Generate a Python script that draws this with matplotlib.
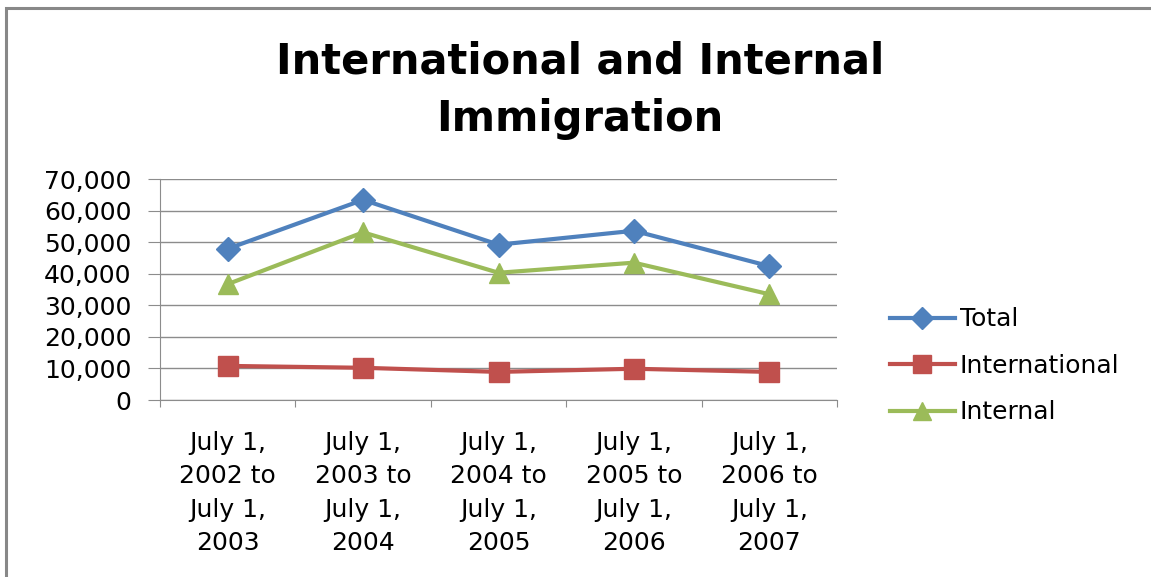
import numpy as np
import matplotlib.pyplot as plt
from matplotlib.patches import Rectangle

# Immigration components, July-to-July periods
periods = ["July 1,\n2002 to\nJuly 1,\n2003",
           "July 1,\n2003 to\nJuly 1,\n2004",
           "July 1,\n2004 to\nJuly 1,\n2005",
           "July 1,\n2005 to\nJuly 1,\n2006",
           "July 1,\n2006 to\nJuly 1,\n2007"]
total = [47900, 63400, 49200, 53600, 42400]
international = [10800, 10200, 8900, 9900, 8900]
internal = [36700, 53100, 40300, 43500, 33500]

plt.rcParams['font.family'] = ['DejaVu Sans']

fig = plt.figure(figsize=(11.51, 5.77), dpi=100)
# outer chart frame (only top and left edges fall inside the image)
fig.patches.append(Rectangle((6 / 1151, -0.1), 1.2, 1 - 8 / 577 + 0.1,
                             transform=fig.transFigure, fill=False,
                             edgecolor='#888888', linewidth=2.2))

ax = fig.add_axes([160 / 1151, 1 - 400 / 577, 677 / 1151, 221 / 577])
x = np.arange(len(periods))

ax.plot(x, total, color='#4F81BD', linewidth=3, marker='D', markersize=12,
        label='Total')
ax.plot(x, international, color='#C0504D', linewidth=3, marker='s',
        markersize=14, label='International')
ax.plot(x, internal, color='#9BBB59', linewidth=3, marker='^', markersize=15,
        label='Internal')

ax.set_xlim(-0.5, 4.5)
ax.set_ylim(0, 70000)
ax.set_yticks(np.arange(0, 70001, 10000))
ax.set_yticklabels([f"{v:,}" for v in range(0, 70001, 10000)], fontsize=18)
ax.yaxis.grid(True, color='#8C8C8C', linewidth=1)
ax.set_axisbelow(True)

# boundary ticks between categories, labels centred under each point
ax.set_xticks(np.arange(-0.5, 4.6, 1))
ax.set_xticklabels([])
ax.set_xticks(x, minor=True)
ax.set_xticklabels(periods, minor=True, fontsize=18, linespacing=1.5)
ax.tick_params(axis='x', which='minor', length=0, pad=22)
ax.tick_params(axis='x', which='major', length=5, color='#8C8C8C')
ax.tick_params(axis='y', length=8.6, color='#8C8C8C', pad=12)

for side in ['top', 'right']:
    ax.spines[side].set_visible(False)
for side in ['left', 'bottom']:
    ax.spines[side].set_color('#8C8C8C')

fig.text(580 / 1151, 1 - 90 / 577, "International and Internal\nImmigration",
         ha='center', va='center', fontsize=30, fontweight='bold',
         linespacing=1.48)

ax.legend(loc='center left', bbox_to_anchor=(1.045, 0.154), frameon=False,
          fontsize=18, handlelength=2.6, labelspacing=0.9, handletextpad=0.2,
          markerscale=0.9)

fig.savefig('out.png', dpi=100)
